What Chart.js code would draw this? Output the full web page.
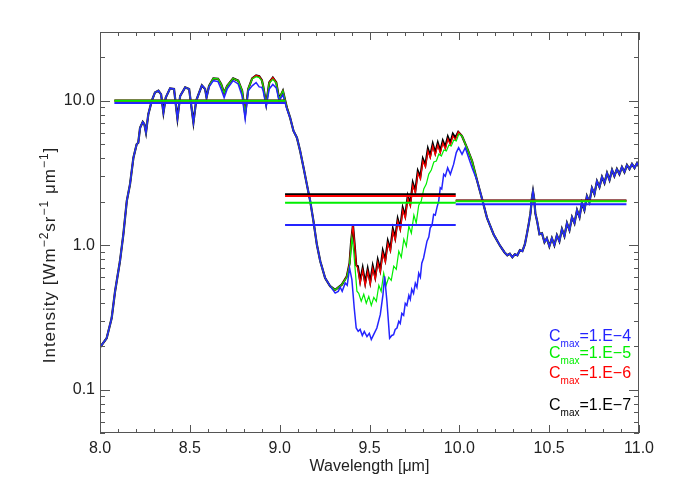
<!DOCTYPE html>
<html>
<head>
<meta charset="utf-8">
<script src="https://cdn.jsdelivr.net/npm/chart.js@4.4.1/dist/chart.umd.min.js"></script>
<style>
  html, body { margin: 0; padding: 0; background: #fff; }
  #c { display: block; }
</style>
</head>
<body>
<canvas id="c" width="700" height="500"></canvas>
<script>
// common to all four spectra, 8.0 - 8.6 um
const wlStart = [8.000, 8.037, 8.065, 8.084, 8.111, 8.130, 8.149, 8.167, 8.186, 8.204, 8.213, 8.223, 8.238, 8.247, 8.256, 8.269, 8.288, 8.306, 8.325, 8.340, 8.353, 8.366, 8.390, 8.412, 8.431, 8.446, 8.474, 8.496, 8.520, 8.535, 8.567, 8.585, 8.593];
const intStart = [0.196, 0.227, 0.313, 0.48, 0.774, 1.187, 2.02, 2.64, 4.04, 5.0, 5.13, 6.5, 7.14, 6.88, 6.03, 8.08, 10.0, 11.44, 11.75, 11.1, 8.3, 10.55, 12.2, 12.1, 7.55, 10.8, 12.4, 12.1, 7.08, 10.0, 12.8, 12.1, 10.55];

// 8.6 - 9.04 um, blue slightly below the others
const wlTop = [8.607, 8.631, 8.657, 8.674, 8.691, 8.708, 8.741, 8.769, 8.791, 8.808, 8.825, 8.847, 8.869, 8.886, 8.901, 8.908, 8.925, 8.942, 8.962, 8.981, 8.997, 9.018, 9.040];
const blueTop = [12.5, 13.8, 13.6, 12.1, 10.5, 12.1, 13.8, 13.1, 10.8, 7.5, 11.75, 12.7, 13.4, 12.5, 12.4, 11.75, 9.23, 12.1, 13.0, 12.3, 10.0, 11.0, 8.8];
const greenTop = [12.7, 14.3, 14.2, 13.1, 11.35, 12.7, 14.3, 13.8, 11.75, 8.1, 12.1, 14.2, 14.7, 14.5, 13.8, 12.7, 9.5, 13.3, 14.1, 13.3, 10.3, 11.75, 8.98];
const redTop = [12.7, 14.3, 14.2, 13.1, 11.35, 12.7, 14.3, 13.8, 11.75, 8.1, 12.1, 14.3, 15.0, 14.8, 13.9, 12.7, 9.5, 13.4, 14.5, 13.4, 10.3, 11.75, 8.98];

// common fall, 9.05 - 9.28 um
const wlFall = [9.058, 9.077, 9.096, 9.114, 9.133, 9.151, 9.170, 9.188, 9.207, 9.226, 9.253, 9.281];
const intFall = [7.65, 6.19, 5.56, 4.5, 3.44, 2.65, 2.02, 1.47, 1.01, 0.774, 0.593, 0.52];

// 9.3 - 10.07 um, where the four spectra split
const wlRedMid = [9.309, 9.346, 9.374, 9.389, 9.398, 9.408, 9.418, 9.426,
  9.435, 9.448, 9.462, 9.476, 9.490, 9.504, 9.518, 9.532, 9.546, 9.560, 9.574, 9.588, 9.602, 9.616, 9.630, 9.643, 9.657, 9.671, 9.685, 9.699,
  9.713, 9.727, 9.741, 9.755, 9.769, 9.783, 9.797, 9.811, 9.825, 9.838, 9.852, 9.866, 9.880, 9.894, 9.908, 9.922, 9.936, 9.950, 9.964, 9.978,
  9.994, 10.015, 10.042, 10.071];
const redMid = [0.49, 0.533, 0.609, 0.75, 1.066, 1.377, 0.984, 0.726,
  0.692, 0.545, 0.671, 0.528, 0.660, 0.536, 0.692, 0.581, 0.762, 0.649, 0.880, 0.762, 1.032, 0.909, 1.251, 1.083, 1.468, 1.271, 1.750, 1.540,
  2.12, 1.866, 2.61, 2.30, 3.16, 2.87, 3.83, 3.48, 4.50, 4.02, 4.87, 4.22, 4.95, 4.35, 5.11, 4.64, 5.45, 4.95, 5.71, 5.36,
  6.09, 5.71, 4.74, 3.83];
const blackMid = [0.49, 0.533, 0.609, 0.75, 1.066, 1.377, 0.984, 0.726,
  0.716, 0.564, 0.694, 0.546, 0.683, 0.555, 0.716, 0.601, 0.789, 0.672, 0.911, 0.789, 1.068, 0.941, 1.295, 1.121, 1.519, 1.315, 1.811, 1.594,
  2.19, 1.931, 2.70, 2.38, 3.27, 2.97, 3.96, 3.60, 4.66, 4.16, 5.04, 4.37, 5.12, 4.50, 5.29, 4.80, 5.64, 5.12, 5.91, 5.55,
  6.09, 5.71, 4.74, 3.83];

const wlGreenMid = [9.309, 9.346, 9.374, 9.389, 9.402, 9.412, 9.430,
  9.440, 9.454, 9.468, 9.482, 9.496, 9.510, 9.524, 9.538, 9.552, 9.565, 9.579, 9.593, 9.607, 9.621, 9.635, 9.649, 9.663, 9.677, 9.691, 9.705,
  9.719, 9.733, 9.747, 9.760, 9.774, 9.788, 9.802, 9.816, 9.830, 9.844, 9.858, 9.872, 9.886, 9.900, 9.914, 9.928, 9.942, 9.955, 9.969, 9.983, 9.997,
  10.015, 10.042, 10.071];
const greenMid = [0.49, 0.533, 0.6, 0.726, 1.118, 0.909, 0.48,
  0.464, 0.409, 0.457, 0.396, 0.442, 0.383, 0.435, 0.409, 0.528, 0.479, 0.639, 0.528, 0.60, 0.571, 0.715, 0.681, 0.909, 0.825, 1.10, 0.984,
  1.355, 1.212, 1.616, 1.422, 1.896, 2.02, 2.45, 2.65, 3.11, 3.32, 3.77, 3.83, 4.28, 4.15, 4.57, 4.50, 4.95, 4.87, 5.36, 5.27, 5.90,
  5.71, 4.74, 3.83];

const wlBlueMid = [9.309, 9.326, 9.337, 9.348, 9.365, 9.376, 9.389, 9.402, 9.415, 9.426, 9.437, 9.448, 9.460, 9.471, 9.486, 9.499, 9.510,
  9.523, 9.541, 9.560, 9.575, 9.584, 9.597, 9.612, 9.624, 9.634, 9.643, 9.653, 9.663, 9.671, 9.680, 9.690, 9.699, 9.708, 9.719, 9.727,
  9.735, 9.745, 9.755, 9.764, 9.774, 9.783, 9.791, 9.801, 9.811, 9.820, 9.830, 9.838, 9.848, 9.857, 9.866, 9.876, 9.885, 9.894, 9.902,
  9.913, 9.922, 9.935, 9.950, 9.968, 9.983, 9.996, 10.015, 10.033, 10.052, 10.071];
const blueMid = [0.466, 0.479, 0.511, 0.479, 0.547, 0.528, 0.696, 0.578, 0.367, 0.267, 0.253, 0.261, 0.237, 0.253, 0.233, 0.245, 0.222,
  0.240, 0.267, 0.330, 0.455, 0.609, 0.409, 0.227, 0.237, 0.240, 0.261, 0.267, 0.297, 0.287, 0.337, 0.327, 0.396, 0.383, 0.45, 0.422,
  0.495, 0.464, 0.545, 0.511, 0.639, 0.60, 0.75, 0.816, 0.938, 1.066, 1.137, 1.318, 1.377, 1.634, 1.616, 1.835, 2.02, 2.50, 2.45,
  3.10, 3.01, 3.44, 3.10, 3.63, 4.38, 4.74, 4.26, 4.74, 4.04, 3.44];

// common again, 10.1 - 11.0 um
const wlEnd = [10.099, 10.127, 10.154, 10.191, 10.228, 10.251, 10.267, 10.281, 10.295, 10.309, 10.323, 10.337, 10.351, 10.365, 10.377,
  10.387, 10.396, 10.404, 10.410, 10.416, 10.423, 10.433,
  10.446, 10.460, 10.474, 10.487, 10.501, 10.515, 10.529, 10.543, 10.557, 10.571, 10.585, 10.599, 10.613, 10.627, 10.641, 10.655,
  10.669, 10.682, 10.696, 10.710, 10.724, 10.738, 10.752, 10.766, 10.780, 10.794, 10.808, 10.822, 10.836, 10.850, 10.863, 10.877,
  10.891, 10.905, 10.919, 10.933, 10.947, 10.961, 10.975, 10.989, 11.0];
const intEnd = [2.8, 2.08, 1.548, 1.187, 0.984, 0.894, 0.852, 0.873, 0.825, 0.866, 0.852, 0.923, 0.909, 1.016, 1.212,
  1.422, 1.668, 2.12, 2.37, 2.12, 1.668, 1.468,
  1.192, 1.212, 1.049, 1.118, 0.984, 1.118, 1.0, 1.173, 1.066, 1.292, 1.155, 1.422, 1.271, 1.564, 1.422, 1.750,
  1.564, 1.957, 1.750, 2.19, 1.99, 2.49, 2.26, 2.78, 2.53, 2.97, 2.70, 3.16, 2.83, 3.32, 3.01, 3.37,
  3.11, 3.48, 3.21, 3.59, 3.37, 3.65, 3.43, 3.71, 3.5];

// band averages: 8.08-9.03, 9.03-9.98, 9.98-10.93 um
const bandEdges = [8.08, 9.03, 9.98, 10.93];
const blueAvg = [9.65, 1.38, 1.92];
const greenAvg = [10.0, 1.97, 2.02];
const redAvg = [10.0, 2.19, 2.03];
const blackAvg = [10.05, 2.25, 2.04];

const cmaxLabels = ['1.E\u22124', '1.E\u22125', '1.E\u22126', '1.E\u22127'];

const xTicks = [8.0, 8.5, 9.0, 9.5, 10.0, 10.5, 11.0];
const yTicks = [0.1, 1, 10];

const BLUE = '#2424ff', GREEN = '#00ee00', RED = '#ff0000', BLACK = '#000000';
const FONT = '"Liberation Sans", Arial, sans-serif';

function pts(w, v) { return w.map((x, i) => ({ x: x, y: v[i] })); }
function bands(v) {
  const out = [];
  v.forEach((a, i) => {
    if (i > 0) out.push({ x: bandEdges[i], y: null });
    out.push({ x: bandEdges[i], y: a }, { x: bandEdges[i + 1], y: a });
  });
  return out;
}

const startPts = pts(wlStart, intStart), fallPts = pts(wlFall, intFall), endPts = pts(wlEnd, intEnd);
const blueData = [...startPts, ...pts(wlTop, blueTop), ...fallPts, ...pts(wlBlueMid, blueMid), ...endPts];
const greenData = [...startPts, ...pts(wlTop, greenTop), ...fallPts, ...pts(wlGreenMid, greenMid), ...endPts];
const redData = [...startPts, ...pts(wlTop, redTop), ...fallPts, ...pts(wlRedMid, redMid), ...endPts];
const blackData = [...startPts, ...pts(wlTop, redTop), ...fallPts, ...pts(wlRedMid, blackMid), ...endPts];

function line(data, color, width, order) {
  return { data: data, borderColor: color, borderWidth: width, pointRadius: 0, tension: 0, order: order, spanGaps: false };
}

const decor = {
  id: 'decor',
  afterDraw(chart) {
    const ctx = chart.ctx, a = chart.chartArea, x = chart.scales.x, y = chart.scales.y;
    ctx.save();
    ctx.strokeStyle = '#555';
    ctx.lineWidth = 1;
    ctx.strokeRect(a.left + 0.5, a.top + 0.5, a.right - a.left - 1, a.bottom - a.top - 1);
    ctx.beginPath();
    for (let i = 0; i <= 30; i++) {
      const px = Math.round(x.getPixelForValue(8 + i * 0.1)) + 0.5;
      const len = i % 5 === 0 ? 8 : 4;
      ctx.moveTo(px, a.bottom); ctx.lineTo(px, a.bottom - len);
      ctx.moveTo(px, a.top); ctx.lineTo(px, a.top + len);
    }
    [0.01, 0.1, 1, 10].forEach(d => {
      for (let m = 1; m <= 9; m++) {
        const v = m * d;
        if (v < 0.05 || v > 30) continue;
        const py = Math.round(y.getPixelForValue(v)) + 0.5;
        const len = m === 1 ? 10 : 5;
        ctx.moveTo(a.left, py); ctx.lineTo(a.left + len, py);
        ctx.moveTo(a.right, py); ctx.lineTo(a.right - len, py);
      }
    });
    ctx.stroke();

    // axis titles
    ctx.fillStyle = '#222';
    ctx.font = '16px ' + FONT;
    ctx.textAlign = 'center';
    ctx.textBaseline = 'middle';
    ctx.fillText('Wavelength [\u03bcm]', (a.left + a.right) / 2, 467);

    const parts = [['Intensity [Wm', 0], ['\u22122', 1], ['sr', 0], ['\u22121', 1], [' \u03bcm', 0], ['\u22121', 1], [']', 0]];
    const fontOf = s => s ? '12px ' + FONT : '17px ' + FONT;
    ctx.letterSpacing = '1px';
    let total = 0;
    parts.forEach(p => { ctx.font = fontOf(p[1]); total += ctx.measureText(p[0]).width; });
    ctx.translate(55, 255);
    ctx.rotate(-Math.PI / 2);
    ctx.textAlign = 'left';
    ctx.textBaseline = 'alphabetic';
    let tx = -total / 2;
    parts.forEach(p => {
      ctx.font = fontOf(p[1]);
      ctx.fillText(p[0], tx, p[1] ? -7 : 0);
      tx += ctx.measureText(p[0]).width;
    });
    ctx.setTransform(1, 0, 0, 1, 0, 0);
    ctx.letterSpacing = '0px';

    // C_max labels
    const rows = [[BLUE, 341], [GREEN, 358], [RED, 378], [BLACK, 410]];
    rows.forEach((r, i) => {
      ctx.fillStyle = r[0];
      ctx.font = '16px ' + FONT;
      ctx.fillText('C', 549, r[1]);
      let cx = 549 + ctx.measureText('C').width;
      ctx.font = '10px ' + FONT;
      ctx.fillText('max', cx, r[1] + 6);
      cx += ctx.measureText('max').width;
      ctx.font = '16px ' + FONT;
      ctx.fillText('=' + cmaxLabels[i], cx, r[1]);
    });
    ctx.restore();
  }
};

new Chart(document.getElementById('c'), {
  type: 'line',
  data: {
    datasets: [
      line(bands(blueAvg), BLUE, 2, -4),
      line(bands(greenAvg), GREEN, 2, -3),
      line(bands(redAvg), RED, 2, -2),
      line(bands(blackAvg), BLACK, 2, -1),
      line(blueData, BLUE, 1.5, 1),
      line(greenData, GREEN, 1.2, 2),
      line(redData, RED, 1.2, 3),
      line(blackData, BLACK, 2.2, 4)
    ]
  },
  options: {
    responsive: false,
    animation: false,
    layout: { padding: { left: 0, top: 32, right: 61, bottom: 0 } },
    plugins: { legend: { display: false }, tooltip: { enabled: false } },
    scales: {
      x: {
        type: 'linear', min: 8, max: 11,
        grid: { display: false, drawTicks: false },
        border: { display: false },
        afterFit: s => { s.height = 67; },
        afterBuildTicks: s => { s.ticks = xTicks.map(v => ({ value: v })); },
        ticks: { padding: 6, maxRotation: 0, autoSkip: false, color: '#222', font: { family: FONT, size: 16 },
          callback: v => Number(v).toFixed(1) }
      },
      y: {
        type: 'logarithmic', min: 0.05, max: 30, bounds: 'data',
        grid: { display: false, drawTicks: false },
        border: { display: false },
        afterFit: s => { s.width = 100; },
        afterBuildTicks: s => { s.ticks = yTicks.map(v => ({ value: v })); },
        ticks: { padding: 5, autoSkip: false, color: '#222', font: { family: FONT, size: 16 },
          callback: v => v >= 1 ? v.toFixed(1) : String(v) }
      }
    }
  },
  plugins: [decor]
});
</script>
</body>
</html>
